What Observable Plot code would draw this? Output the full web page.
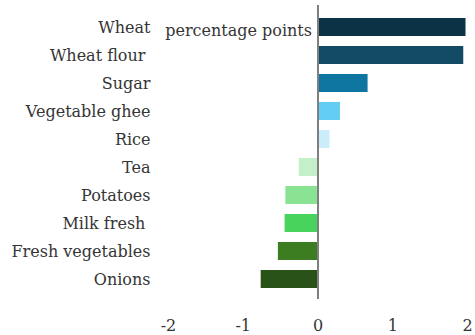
<!DOCTYPE html>
<html>
<head>
<meta charset="utf-8">
<script src="https://cdn.jsdelivr.net/npm/d3@7"></script>
<script src="https://cdn.jsdelivr.net/npm/@observablehq/plot@0.6"></script>
<style>
  html, body { margin: 0; padding: 0; background: #fff; }
  #chart svg { display: block; }
</style>
</head>
<body>
<div id="chart"></div>
<script>
// Contribution to the change, by item (percentage points)
const items = ["Wheat", "Wheat flour\u00a0", "Sugar", "Vegetable ghee", "Rice", "Tea", "Potatoes", "Milk fresh\u00a0", "Fresh vegetables", "Onions"];
const values = [1.98, 1.95, 0.67, 0.30, 0.16, -0.25, -0.43, -0.44, -0.53, -0.76];
const colors = ["#0c3245", "#134a63", "#0e76a0", "#62ccf3", "#cbecfa", "#c3f0c8", "#89e393", "#48d45c", "#3d7d22", "#285217"];
const xTicks = [-2, -1, 0, 1, 2];
const unitLabel = "percentage points";

const data = items.map((item, i) => ({item, value: values[i], color: colors[i]}));
const font = "'DejaVu Serif', serif";
const fmt = d => d < 0 ? "-" + Math.abs(d) : String(d);

const chart = Plot.plot({
  width: 475,
  height: 335,
  marginLeft: 168,
  marginRight: 8,
  marginTop: 6,
  marginBottom: 36,
  style: {fontFamily: font, fontSize: "16px", color: "#353535", background: "#fff"},
  x: {domain: [-2, 2], ticks: xTicks, tickFormat: fmt, label: null},
  y: {domain: items, label: null, padding: 0.36},
  marks: [
    Plot.barX(data, {x: "value", y: "item", fill: "color"}),
    Plot.ruleX([0], {stroke: "#7f7f7f", strokeWidth: 2, insetTop: -1}),
    Plot.axisX({ticks: xTicks, tickSize: 0, tickPadding: 20, fontSize: 16, tickFormat: fmt, label: null}),
    Plot.axisY({tickSize: 0, tickPadding: 18, fontSize: 16, label: null}),
    Plot.text([unitLabel], {x: 0, frameAnchor: "top", dy: 18, dx: -6, textAnchor: "end", fontSize: 16, fill: "#353535"})
  ]
});

document.getElementById("chart").appendChild(chart);
</script>
</body>
</html>
